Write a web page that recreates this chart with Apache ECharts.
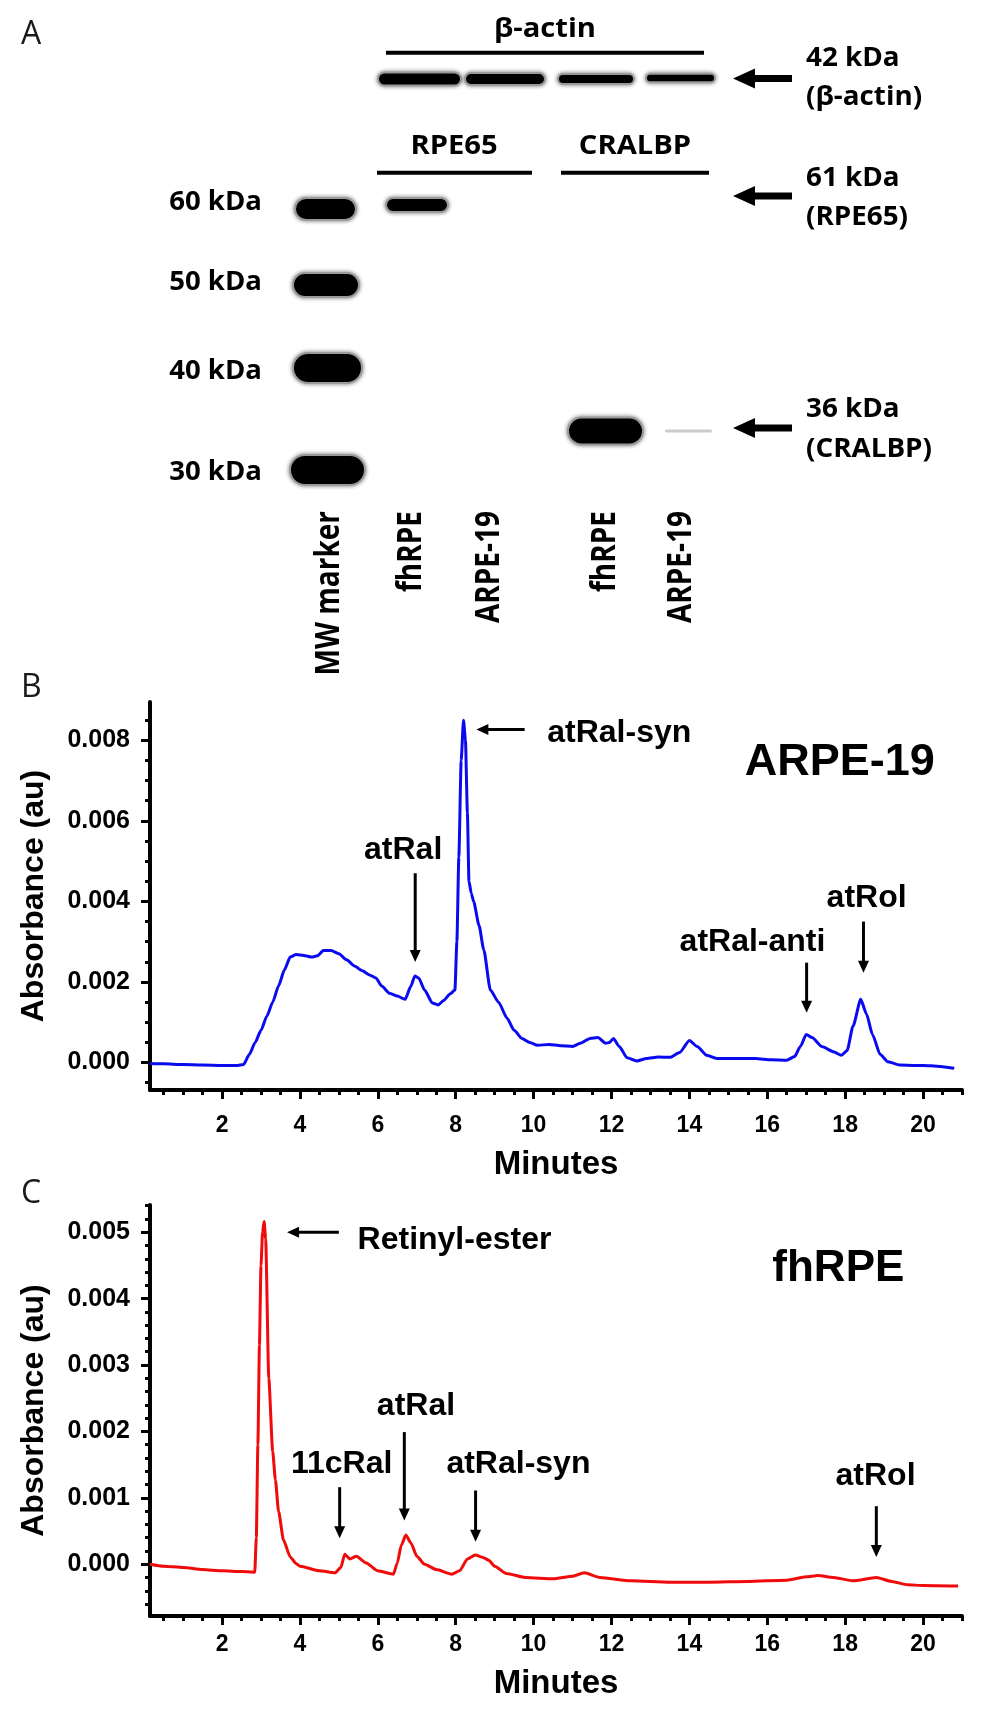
<!DOCTYPE html>
<html><head><meta charset="utf-8">
<script src="https://cdn.jsdelivr.net/npm/echarts@6/dist/echarts.min.js"></script>
<style>html,body{margin:0;padding:0;background:#fff}#c{width:983px;height:1711px}</style>
</head><body><div id="c"></div>
<script>
// ---------------- Panel A: western blot (lane position / migration distance)
const laneLabels = ['MW marker', 'fhRPE', 'ARPE-19', 'fhRPE', 'ARPE-19'];
const laneLabelPos = [1.58, 3.22, 4.78, 7.1, 8.62];
const bandNames = ['β-actin fhRPE', 'β-actin ARPE-19', 'β-actin fhRPE', 'β-actin ARPE-19',
  'marker 60', 'marker 50', 'marker 40', 'marker 30', 'RPE65 fhRPE', 'CRALBP fhRPE', 'CRALBP ARPE-19'];
const bandLane = [3.39, 5.1, 6.92, 8.61, 1.51, 1.52, 1.55, 1.55, 3.34, 7.11, 8.77];
const bandMigration = [7.9, 7.9, 7.9, 7.8, 20.9, 28.5, 36.8, 47.0, 20.5, 43.1, 43.1];
const bandWidth = [1.66, 1.6, 1.52, 1.38, 1.22, 1.32, 1.38, 1.5, 1.24, 1.5, 0.94];
const bandThickness = [1.3, 1.2, 1.0, 0.85, 2.2, 2.4, 3.0, 3.0, 1.4, 2.7, 0.3];
const bandDensity = [1, 1, 1, 1, 1, 1, 1, 1, 1, 1, 0.2];
const markerLabels = ['60 kDa', '50 kDa', '40 kDa', '30 kDa'];
const markerLabelPos = [20.3, 28.3, 37.2, 47.3];
const targetLabels = [['42 kDa', '(β-actin)'], ['61 kDa', '(RPE65)'], ['36 kDa', '(CRALBP)']];
const targetLabelPos = [[5.8, 9.7], [17.8, 21.7], [40.9, 44.9]];
const targetArrowPos = [7.85, 19.6, 42.8];
const headerLabels = ['β-actin', 'RPE65', 'CRALBP'];
const headerLabelPos = [[5.9, 2.9], [4.08, 14.65], [7.7, 14.65]];
const headerLines = [[2.72, 9.08, 5.27], [2.54, 5.64, 17.27], [6.22, 9.18, 17.27]];

// ---------------- Panel B: ARPE-19 chromatogram
const timesB = [0.15,0.5,1.0,1.5,2.0,2.4,2.55,2.7,2.85,3.0,3.15,3.3,3.45,3.6,3.75,3.9,4.1,4.3,4.45,4.6,4.8,5.0,5.2,5.4,5.6,5.8,5.95,6.1,6.3,6.5,6.7,6.85,6.95,7.05,7.2,7.4,7.55,7.7,7.85,7.98,8.03,8.08,8.14,8.2,8.25,8.3,8.34,8.4,8.46,8.6,8.72,8.89,9.1,9.32,9.5,9.7,9.9,10.1,10.4,10.7,11.0,11.2,11.45,11.65,11.85,11.95,12.05,12.2,12.4,12.65,12.9,13.2,13.5,13.75,14.0,14.2,14.45,14.7,15.2,15.7,16.1,16.5,16.7,16.85,17.0,17.15,17.4,17.7,17.9,18.05,18.2,18.4,18.55,18.7,18.9,19.1,19.4,19.8,20.2,20.5,20.8];
const absB = [-0.00002,-0.00003,-0.00005,-0.00006,-0.00007,-0.00007,-0.00005,0.0002,0.0005,0.0008,0.00115,0.0015,0.0019,0.0023,0.00262,0.00268,0.00266,0.00262,0.00265,0.00278,0.00278,0.0027,0.00255,0.0024,0.00228,0.00217,0.0021,0.0019,0.00172,0.00165,0.00157,0.0019,0.00215,0.0021,0.0018,0.00148,0.00143,0.00155,0.0017,0.0018,0.003,0.0051,0.0075,0.0085,0.008,0.0062,0.0045,0.0042,0.004,0.0034,0.0028,0.0018,0.0015,0.0011,0.0008,0.0006,0.0005,0.00043,0.00045,0.00042,0.0004,0.00048,0.0006,0.00062,0.00048,0.0005,0.0006,0.0004,0.00012,0.00004,0.0001,0.00014,0.00013,0.00025,0.00055,0.0004,0.00018,0.0001,0.0001,0.0001,0.00007,0.00006,0.00015,0.0004,0.0007,0.00062,0.0004,0.00027,0.00018,0.0003,0.0009,0.00157,0.0012,0.0007,0.0002,0.00002,-0.00006,-0.00007,-0.00008,-0.0001,-0.00014];
const yTicksB = [0, 0.002, 0.004, 0.006, 0.008];
const arrowsB = [[6.96, 0.0047, 6.96, 0.0025], [9.77, 0.00827, 8.53, 0.00827], [17.01, 0.00248, 17.01, 0.00124], [18.47, 0.0035, 18.47, 0.00223]];
const labelsB = [['atRal', 6.65, 0.00498, 'center'], ['atRal-syn', 10.35, 0.00788, 'left'], ['atRal-anti', 15.62, 0.00271, 'center'], ['atRol', 18.55, 0.00379, 'center']];
const titleB = ['ARPE-19', 15.42, 0.00705];

// ---------------- Panel C: fhRPE chromatogram
const timesC = [0.15,0.5,1.0,1.5,2.0,2.5,2.84,2.88,2.92,2.96,3.0,3.04,3.08,3.12,3.2,3.3,3.37,3.45,3.58,3.75,3.9,4.0,4.5,4.9,5.05,5.15,5.28,5.45,5.7,6.0,6.4,6.5,6.6,6.72,6.85,7.0,7.2,7.5,7.9,8.1,8.3,8.5,8.7,8.85,9.0,9.3,9.8,10.5,11.0,11.3,11.7,12.5,13.5,14.5,15.5,16.5,17.0,17.3,17.7,18.2,18.8,19.2,19.6,20.0,20.9];
const absC = [0.0,-0.00003,-0.00005,-0.00008,-0.0001,-0.00011,-0.00012,0.0004,0.0018,0.0033,0.0045,0.0050,0.00516,0.0049,0.0028,0.0017,0.00127,0.0008,0.00036,0.00011,0.00001,-0.00003,-0.0001,-0.00013,-0.00005,0.00015,0.00008,0.00012,0.00002,-0.0001,-0.00015,0.00002,0.00028,0.00044,0.00032,0.00012,0.0,-0.00008,-0.00015,-0.0001,0.00008,0.00014,0.0001,0.00006,-0.00003,-0.00014,-0.0002,-0.00022,-0.00018,-0.00013,-0.0002,-0.00025,-0.00027,-0.00027,-0.00026,-0.00024,-0.00019,-0.00017,-0.0002,-0.00025,-0.0002,-0.00026,-0.00031,-0.00032,-0.00033];
const yTicksC = [0, 0.001, 0.002, 0.003, 0.004, 0.005];
const arrowsC = [[5.0, 0.0050, 3.67, 0.0050], [5.02, 0.00116, 5.02, 0.00039], [6.68, 0.00199, 6.68, 0.00066], [8.51, 0.00111, 8.51, 0.00034], [18.8, 0.000874, 18.8, 0.00011]];
const labelsC = [['Retinyl-ester', 5.48, 0.00471, 'left'], ['11cRal', 5.07, 0.00133, 'center'], ['atRal', 6.98, 0.00221, 'center'], ['atRal-syn', 9.61, 0.00133, 'center'], ['atRol', 18.78, 0.00115, 'center']];
const titleC = ['fhRPE', 16.13, 0.00421];

const xTicks = [2, 4, 6, 8, 10, 12, 14, 16, 18, 20];

// ---------------- derived tick lists
const xMinor = [];
for (let k = 1; k <= 42; k++) { if (k % 4 !== 0) xMinor.push(k * 0.5); }
const yMinorB = [];
for (let k = -1; k <= 17; k++) { if (k % 4 !== 0) yMinorB.push(+(k * 0.0005).toFixed(5)); }
const yMinorC = [];
for (let k = -3; k <= 27; k++) { if (k % 5 !== 0) yMinorC.push(+(k * 0.0002).toFixed(5)); }

const FONT = "'Liberation Sans', Arial, Helvetica, sans-serif";
const FONT_BLOT = "'Open Sans', Lato, 'Noto Sans', sans-serif";

const chart = echarts.init(document.getElementById('c'), null, { renderer: 'canvas', width: 983, height: 1711 });

function mainX(grid, margin, gap) {
  return {
    type: 'value', gridIndex: grid, min: 0.15, max: 21, position: 'bottom',
    axisLine: { show: true, onZero: false, lineStyle: { color: '#000', width: 4 } },
    axisTick: { show: true, customValues: xTicks, length: 9, lineStyle: { color: '#000', width: 3 } },
    axisLabel: { show: true, customValues: xTicks, margin: margin, fontSize: 23, fontWeight: 'bold', fontFamily: FONT, color: '#000' },
    splitLine: { show: false },
    name: 'Minutes', nameLocation: 'middle', nameGap: gap,
    nameTextStyle: { fontSize: 33, fontWeight: 'bold', fontFamily: FONT, color: '#000' }
  };
}
function minorX(grid) {
  return {
    type: 'value', gridIndex: grid, min: 0.15, max: 21, position: 'bottom',
    axisLine: { show: false, onZero: false },
    axisTick: { show: true, customValues: xMinor, length: 5, lineStyle: { color: '#000', width: 3 } },
    axisLabel: { show: false }, splitLine: { show: false }
  };
}
function mainY(grid, min, max, ticks) {
  return {
    type: 'value', gridIndex: grid, min: min, max: max, position: 'left',
    axisLine: { show: true, onZero: false, lineStyle: { color: '#000', width: 4 } },
    axisTick: { show: true, customValues: ticks, length: 9, lineStyle: { color: '#000', width: 3 } },
    axisLabel: { show: true, customValues: ticks, margin: 20, fontSize: 25, fontWeight: 'bold', fontFamily: FONT, color: '#000',
      formatter: v => Number(v).toFixed(3) },
    splitLine: { show: false },
    name: 'Absorbance (au)', nameLocation: 'middle', nameRotate: 90, nameGap: 100,
    nameTextStyle: { fontSize: 32, fontWeight: 'bold', fontFamily: FONT, color: '#000' }
  };
}
function minorY(grid, min, max, ticks) {
  return {
    type: 'value', gridIndex: grid, min: min, max: max, position: 'left',
    axisLine: { show: false, onZero: false },
    axisTick: { show: true, customValues: ticks, length: 5, lineStyle: { color: '#000', width: 3 } },
    axisLabel: { show: false }, splitLine: { show: false }
  };
}

const bandData = bandLane.map((x, i) => [x, bandMigration[i], bandWidth[i], bandThickness[i], bandDensity[i]]);

const option = {
  animation: false,
  backgroundColor: '#fff',
  grid: [
    { left: 250, top: 0, width: 500, height: 650, outerBoundsMode: 'none' },
    { left: 150, top: 702, width: 812, height: 388, outerBoundsMode: 'none' },
    { left: 150, top: 1205, width: 812, height: 411, outerBoundsMode: 'none' }
  ],
  xAxis: [
    { type: 'value', gridIndex: 0, min: 0, max: 10, show: false },
    mainX(1, 24, 58), minorX(1),
    mainX(2, 17, 51), minorX(2)
  ],
  yAxis: [
    { type: 'value', gridIndex: 0, min: 0, max: 65, inverse: true, show: false },
    mainY(1, -0.00068, 0.00895, yTicksB), minorY(1, -0.00068, 0.00895, yMinorB),
    mainY(2, -0.00078, 0.00541, yTicksC), minorY(2, -0.00078, 0.00541, yMinorC)
  ],
  series: [
    {
      type: 'custom', name: 'blot', xAxisIndex: 0, yAxisIndex: 0, silent: true, data: bandData,
      renderItem: function (params, api) {
        const c = api.coord([api.value(0), api.value(1)]);
        const w = api.size([api.value(2), 0])[0];
        const h = api.size([0, api.value(3)])[1];
        const d = api.value(4);
        const g = Math.round(255 * (1 - d));
        return {
          type: 'rect',
          shape: { x: c[0] - w / 2, y: c[1] - h / 2, width: w, height: h, r: h / 2 },
          style: {
            fill: 'rgb(' + g + ',' + g + ',' + g + ')',
            stroke: d > 0.5 ? '#9a9a9a' : null, lineWidth: d > 0.5 ? 2 : 0,
            shadowBlur: d > 0.5 ? 4 : 0, shadowColor: 'rgba(0,0,0,0.45)'
          }
        };
      }
    },
    {
      type: 'line', name: 'ARPE-19', xAxisIndex: 1, yAxisIndex: 1, showSymbol: false, symbol: 'none',
      smooth: 0.2, smoothMonotone: 'x',
      lineStyle: { color: '#0a0af0', width: 3 },
      data: timesB.map((t, i) => [t, absB[i]])
    },
    {
      type: 'line', name: 'fhRPE', xAxisIndex: 3, yAxisIndex: 3, showSymbol: false, symbol: 'none',
      smooth: 0.2, smoothMonotone: 'x',
      lineStyle: { color: '#f00a0a', width: 3 },
      data: timesC.map((t, i) => [t, absC[i]])
    }
  ]
};
chart.setOption(option);

// ---------------- annotations (positions given in data units, converted by the axes)
const G = [];
function txt(s, x, y, o) {
  o = o || {};
  return {
    type: 'text', x: x, y: y, rotation: o.rot || 0, scaleX: o.sx || 1, scaleY: o.sy || 1, silent: true, z: 100,
    style: {
      text: s, fill: o.color || '#000', fontSize: o.size || 20, fontWeight: o.weight || 'bold', fontFamily: o.family || FONT,
      align: o.align || 'left', textAlign: o.align || 'left',
      verticalAlign: o.va || 'middle', textVerticalAlign: o.va || 'middle'
    }
  };
}
function arrow(p1, p2, w, hl, hw) {
  const dx = p2[0] - p1[0], dy = p2[1] - p1[1];
  const L = Math.hypot(dx, dy), ux = dx / L, uy = dy / L, nx = -uy, ny = ux;
  const b = [p2[0] - ux * hl, p2[1] - uy * hl];
  G.push({ type: 'line', silent: true, z: 100, shape: { x1: p1[0], y1: p1[1], x2: b[0] + ux, y2: b[1] + uy }, style: { stroke: '#000', lineWidth: w } });
  G.push({ type: 'polygon', silent: true, z: 100, shape: { points: [[p2[0], p2[1]], [b[0] + nx * hw / 2, b[1] + ny * hw / 2], [b[0] - nx * hw / 2, b[1] - ny * hw / 2]] }, style: { fill: '#000' } });
}
const pA = p => chart.convertToPixel({ xAxisIndex: 0, yAxisIndex: 0 }, p);
const pB = p => chart.convertToPixel({ xAxisIndex: 1, yAxisIndex: 1 }, p);
const pC = p => chart.convertToPixel({ xAxisIndex: 3, yAxisIndex: 3 }, p);

// panel letters
G.push(txt('A', 21, 35, { size: 32, weight: 'normal', color: '#1a1a1a', family: "'Open Sans', sans-serif" }));
G.push(txt('B', 21, 688, { size: 32, weight: 'normal', color: '#1a1a1a', family: "'Open Sans', sans-serif" }));
G.push(txt('C', 21, 1194, { size: 32, weight: 'normal', color: '#1a1a1a', family: "'Open Sans', sans-serif" }));

// panel A
headerLines.forEach(l => {
  const a = pA([l[0], l[2]]), b = pA([l[1], l[2]]);
  G.push({ type: 'line', silent: true, shape: { x1: a[0], y1: a[1], x2: b[0], y2: b[1] }, style: { stroke: '#000', lineWidth: 4 } });
});
headerLabels.forEach((s, i) => {
  const p = pA(headerLabelPos[i]);
  G.push(txt(s, p[0], p[1], { size: 27, family: FONT_BLOT, align: 'center', sx: 1.08 }));
});
markerLabels.forEach((s, i) => {
  const p = pA([0.24, markerLabelPos[i]]);
  G.push(txt(s, p[0], p[1], { size: 26, family: FONT_BLOT, align: 'right', sx: 1.06 }));
});
targetLabels.forEach((pair, i) => {
  pair.forEach((s, j) => {
    const p = pA([11.12, targetLabelPos[i][j]]);
    G.push(txt(s, p[0], p[1], { size: 27, family: FONT_BLOT, align: 'left', sx: 1.03 }));
  });
  arrow(pA([10.84, targetArrowPos[i]]), pA([9.66, targetArrowPos[i]]), 7, 22, 20);
});
laneLabels.forEach((s, i) => {
  const p = pA([laneLabelPos[i], 51.1]);
  G.push(txt(s, p[0], p[1], { size: 28, family: FONT_BLOT, align: 'right', rot: Math.PI / 2, sy: 1.2 }));
});

// panel B
arrowsB.forEach(a => arrow(pB([a[0], a[1]]), pB([a[2], a[3]]), 3, 12, 11));
labelsB.forEach(l => { const p = pB([l[1], l[2]]); G.push(txt(l[0], p[0], p[1] - 0.36 * 32, { size: 32, align: l[3] })); });
{ const p = pB([titleB[1], titleB[2]]); G.push(txt(titleB[0], p[0], p[1] - 0.36 * 45, { size: 45, align: 'left' })); }

// panel C
arrowsC.forEach(a => arrow(pC([a[0], a[1]]), pC([a[2], a[3]]), 3, 12, 11));
labelsC.forEach(l => { const p = pC([l[1], l[2]]); G.push(txt(l[0], p[0], p[1] - 0.36 * 32, { size: 32, align: l[3] })); });
{ const p = pC([titleC[1], titleC[2]]); G.push(txt(titleC[0], p[0], p[1] - 0.36 * 44, { size: 44, align: 'left' })); }

chart.setOption({ graphic: { elements: G } });
</script>
</body></html>
